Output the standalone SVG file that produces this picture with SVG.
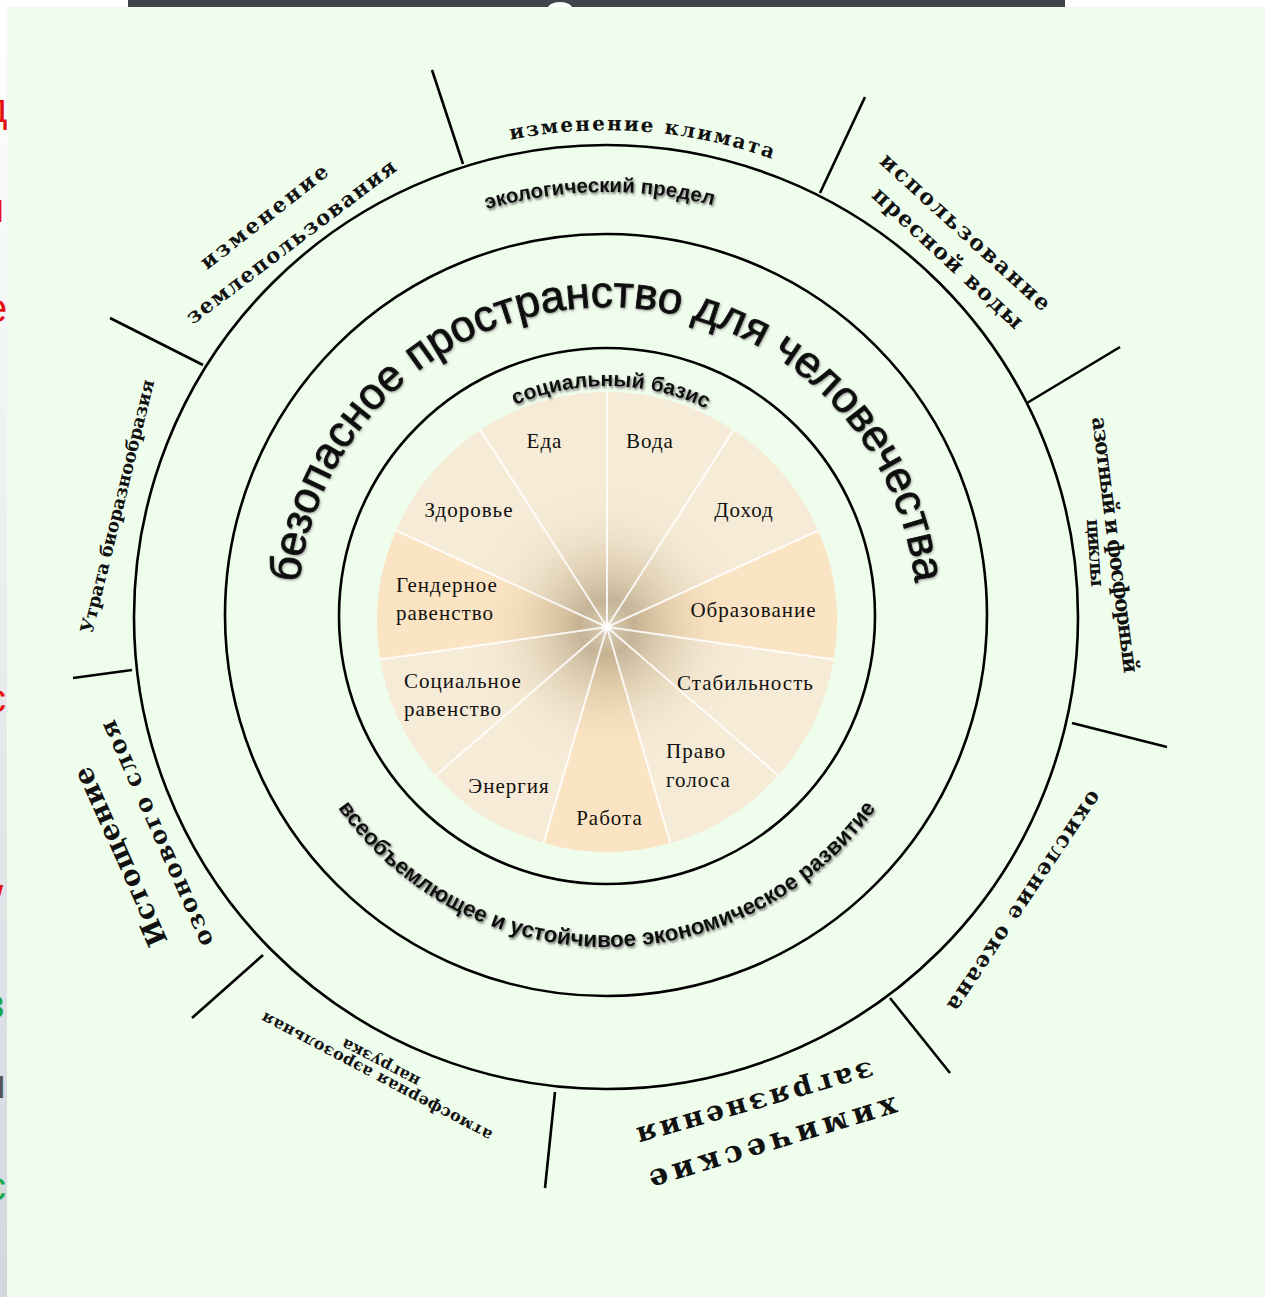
<svg xmlns="http://www.w3.org/2000/svg" width="1265" height="1297" viewBox="0 0 1265 1297">
<defs>
<style>
.ring{fill:none;stroke:#000;stroke-width:2.6}
.tick{stroke:#000;stroke-width:2.6}
.outer{font-family:"DejaVu Serif","Liberation Serif",serif;font-weight:bold;fill:#111;text-anchor:middle}
.sans{font-family:"Liberation Sans",Arial,sans-serif;fill:#111;text-anchor:middle}
.lbl{font-family:"Liberation Serif","Times New Roman",serif;font-size:21px;letter-spacing:1px;fill:#111}
.spoke{stroke:#fff;stroke-width:2;stroke-opacity:0.85}
.light{fill:#f6ebd7}
.peach{fill:#fbe4c3}
.frag{font-family:"Liberation Sans",Arial,sans-serif;font-size:40px}
</style>
<linearGradient id="strip" x1="0" y1="0" x2="0" y2="1"><stop offset="0" stop-color="#ffffff"/><stop offset="1" stop-color="#d3d7dc"/></linearGradient>
<radialGradient id="hub" cx="607" cy="627" r="230" gradientUnits="userSpaceOnUse">
<stop offset="0" stop-color="#ffffff" stop-opacity="1"/>
<stop offset="0.03" stop-color="#d5c7ad" stop-opacity="0.95"/>
<stop offset="0.12" stop-color="#b5a282" stop-opacity="0.75"/>
<stop offset="0.28" stop-color="#c9b592" stop-opacity="0.45"/>
<stop offset="0.48" stop-color="#e6d5b8" stop-opacity="0.15"/>
<stop offset="0.62" stop-color="#f3e6cf" stop-opacity="0"/>
</radialGradient>
<filter id="sh" x="-5%" y="-30%" width="110%" height="160%"><feDropShadow dx="1.2" dy="1.8" stdDeviation="0.9" flood-color="#555" flood-opacity="0.8"/></filter>
<filter id="sh2" x="-5%" y="-10%" width="110%" height="120%"><feDropShadow dx="0.8" dy="1.2" stdDeviation="0.8" flood-color="#666" flood-opacity="0.6"/></filter>
<clipPath id="leftclip"><rect x="0" y="0" width="7" height="1297"/></clipPath>
<path id="pEco" d="M182.06,624.42 A425,425 0 0 1 1031.94,609.58"/>
<path id="pSoc" d="M376.03,612.97 A231,231 0 0 1 837.97,621.03"/>
<path id="pBig" d="M297,617 A310,310 0 0 1 917,617"/>
<path id="pEcon" d="M277,617 A330,330 0 0 0 937,617"/>
<path id="pClim" d="M117.4,580.2 A491,491 0 0 1 1096.6,653.8"/>
</defs>

<g id="backdrop">
<rect x="0" y="0" width="1265" height="1297" fill="#ffffff"/>
<rect x="0" y="0" width="7" height="1297" fill="url(#strip)"/>
<rect x="128" y="0" width="937" height="8" fill="#3f4449"/>
<ellipse cx="560" cy="8" rx="12" ry="6" fill="#ffffff"/>
<rect x="7" y="7" width="1258" height="1290" fill="#effdec"/>
<g clip-path="url(#leftclip)">
<text class="frag" x="-16" y="122" fill="#e41010">д</text>
<text class="frag" x="-20" y="222" fill="#e41010" font-weight="bold">н</text>
<text class="frag" x="-15" y="322" fill="#e41010">е</text>
<text class="frag" x="-20" y="530" fill="#e41010">н</text>
<text class="frag" x="-14" y="712" fill="#e41010">с</text>
<text class="frag" x="-8" y="915" fill="#e41010">/</text>
<text class="frag" x="-14" y="1018" fill="#1aa84a">з</text>
<text class="frag" x="-16" y="1098" fill="#555">п</text>
<text class="frag" x="-14" y="1200" fill="#1aa84a">с</text>
</g>
</g>

<g id="pie">
<path class="light" d="M607,627 L607,392 A230,230 0 0 1 733.6,430.0 Z"/>
<path class="light" d="M607,627 L733.6,430.0 A230,230 0 0 1 818.1,530.6 Z"/>
<path class="peach" d="M607,627 L818.1,530.6 A230,230 0 0 1 833.9,659.6 Z"/>
<path class="light" d="M607,627 L833.9,659.6 A230,230 0 0 1 778.3,775.5 Z"/>
<path class="light" d="M607,627 L778.3,775.5 A230,230 0 0 1 670.4,843.1 Z"/>
<path class="peach" d="M607,627 L670.4,843.1 A230,230 0 0 1 543.6,843.1 Z"/>
<path class="light" d="M607,627 L543.6,843.1 A230,230 0 0 1 435.7,775.5 Z"/>
<path class="light" d="M607,627 L435.7,775.5 A230,230 0 0 1 380.1,659.6 Z"/>
<path class="peach" d="M607,627 L380.1,659.6 A230,230 0 0 1 396.0,530.6 Z"/>
<path class="light" d="M607,627 L396.0,530.6 A230,230 0 0 1 480.4,430.0 Z"/>
<path class="light" d="M607,627 L480.4,430.0 A230,230 0 0 1 607,392 Z"/>
<circle cx="607" cy="627" r="236" fill="url(#hub)"/>
<g class="spoke">
<line x1="607" y1="627" x2="607" y2="392"/>
<line x1="607" y1="627" x2="733.6" y2="430.0"/>
<line x1="607" y1="627" x2="818.1" y2="530.6"/>
<line x1="607" y1="627" x2="833.9" y2="659.6"/>
<line x1="607" y1="627" x2="778.3" y2="775.5"/>
<line x1="607" y1="627" x2="670.4" y2="843.1"/>
<line x1="607" y1="627" x2="543.6" y2="843.1"/>
<line x1="607" y1="627" x2="435.7" y2="775.5"/>
<line x1="607" y1="627" x2="380.1" y2="659.6"/>
<line x1="607" y1="627" x2="396.0" y2="530.6"/>
<line x1="607" y1="627" x2="480.4" y2="430.0"/>
</g>
</g>

<g id="pie-labels">
<text id="l-eda" class="lbl" x="544.5" y="448" text-anchor="middle">Еда</text>
<text id="l-voda" class="lbl" x="650" y="448" text-anchor="middle">Вода</text>
<text id="l-zdorovie" class="lbl" x="469" y="517" text-anchor="middle">Здоровье</text>
<text id="l-dohod" class="lbl" x="744" y="517" text-anchor="middle">Доход</text>
<text id="l-gender" class="lbl" x="396" y="592"><tspan x="396">Гендерное</tspan><tspan x="396" y="620">равенство</tspan></text>
<text id="l-obraz" class="lbl" x="753.5" y="617" text-anchor="middle">Образование</text>
<text id="l-social" class="lbl" x="404" y="688"><tspan x="404">Социальное</tspan><tspan x="404" y="716">равенство</tspan></text>
<text id="l-stab" class="lbl" x="745.5" y="690" text-anchor="middle">Стабильность</text>
<text id="l-pravo" class="lbl" x="666" y="758"><tspan x="666">Право</tspan><tspan x="666" y="787">голоса</tspan></text>
<text id="l-energy" class="lbl" x="509" y="793" text-anchor="middle">Энергия</text>
<text id="l-rabota" class="lbl" x="609.5" y="825" text-anchor="middle">Работа</text>
</g>

<g id="rings">
<circle class="ring" cx="606" cy="617" r="472"/>
<circle class="ring" cx="606" cy="615" r="381"/>
<circle class="ring" cx="607" cy="616" r="268"/>
</g>

<g id="connectors">
<line class="tick" x1="463" y1="164" x2="432" y2="70"/>
<line class="tick" x1="820" y1="193" x2="865" y2="97"/>
<line class="tick" x1="1027" y1="403" x2="1120" y2="347"/>
<line class="tick" x1="1072" y1="723" x2="1167" y2="747"/>
<line class="tick" x1="890" y1="998" x2="950" y2="1073"/>
<line class="tick" x1="555" y1="1092" x2="545" y2="1188"/>
<line class="tick" x1="263" y1="955" x2="192" y2="1018"/>
<line class="tick" x1="132" y1="670" x2="73" y2="678"/>
<line class="tick" x1="203" y1="365" x2="110" y2="318"/>
</g>

<g id="ring-labels">
<text id="eco-limit" class="sans" font-size="20.5" font-weight="bold" filter="url(#sh)"><textPath href="#pEco" startOffset="50%">экологический предел</textPath></text>
<text id="social-base" class="sans" font-size="21" font-weight="bold" filter="url(#sh)"><textPath href="#pSoc" startOffset="50%">социальный базис</textPath></text>
<text id="safe-space" class="sans" font-size="44" stroke="#111" stroke-width="0.9" filter="url(#sh2)"><textPath href="#pBig" startOffset="50%">безопасное пространство для человечества</textPath></text>
<text id="economy" class="sans" font-size="22.5" font-weight="bold" filter="url(#sh)"><textPath href="#pEcon" startOffset="50%">всеобъемлющее и устойчивое экономическое развитие</textPath></text>
</g>

<g id="boundary-labels">
<g id="b-climate"><text class="outer" font-size="20" letter-spacing="2"><textPath href="#pClim" startOffset="50%">изменение климата</textPath></text></g>
<g id="b-water">
<text class="outer" font-size="22" transform="translate(964.5,233) rotate(42.4)" y="6" textLength="222" lengthAdjust="spacing">использование</text>
<text class="outer" font-size="22" transform="translate(947,259) rotate(42.8)" y="6" textLength="197" lengthAdjust="spacing">пресной воды</text>
</g>
<g id="b-nitrogen">
<text class="outer" font-size="21" transform="translate(1114,545) rotate(82.8)" y="6" textLength="258" lengthAdjust="spacing">азотный и фосфорный</text>
<text class="outer" font-size="19" transform="translate(1094,553) rotate(86)" y="5" textLength="68" lengthAdjust="spacing">циклы</text>
</g>
<g id="b-ocean">
<text class="outer" font-size="22" transform="translate(1023.5,900.5) rotate(123.7)" y="6" textLength="260" lengthAdjust="spacing">окисление океана</text>
</g>
<g id="b-chemical">
<text class="outer" font-size="30" transform="translate(773,1142) rotate(163)" y="8" textLength="258" lengthAdjust="spacing">химические</text>
<text class="outer" font-size="28" transform="translate(755,1102) rotate(164)" y="7.5" textLength="245" lengthAdjust="spacing">загрязнения</text>
</g>
<g id="b-aerosol">
<text class="outer" font-size="16" transform="translate(377,1076) rotate(207.7)" y="4.5" textLength="258" lengthAdjust="spacing">атмосферная аэрозольная</text>
<text class="outer" font-size="16" transform="translate(381,1062) rotate(207.6)" y="4.5" textLength="86" lengthAdjust="spacing">нагрузка</text>
</g>
<g id="b-ozone">
<text class="outer" font-size="28" transform="translate(122,856) rotate(-114)" y="7.5" textLength="193" lengthAdjust="spacing">Истощение</text>
<text class="outer" font-size="24" transform="translate(158,833) rotate(-114)" y="6.5" textLength="245" lengthAdjust="spacing">озонового слоя</text>
</g>
<g id="b-biodiversity">
<text class="outer" font-size="18" transform="translate(118.5,506.5) rotate(-76.2)" y="5" textLength="260" lengthAdjust="spacing">Утрата биоразнообразия</text>
</g>
<g id="b-land">
<text class="outer" font-size="21" transform="translate(265,218) rotate(-38)" y="5.5" textLength="156" lengthAdjust="spacing">изменение</text>
<text class="outer" font-size="21" transform="translate(292,243) rotate(-37.1)" y="5.5" textLength="257" lengthAdjust="spacing">землепользования</text>
</g>
</g>
</svg>
